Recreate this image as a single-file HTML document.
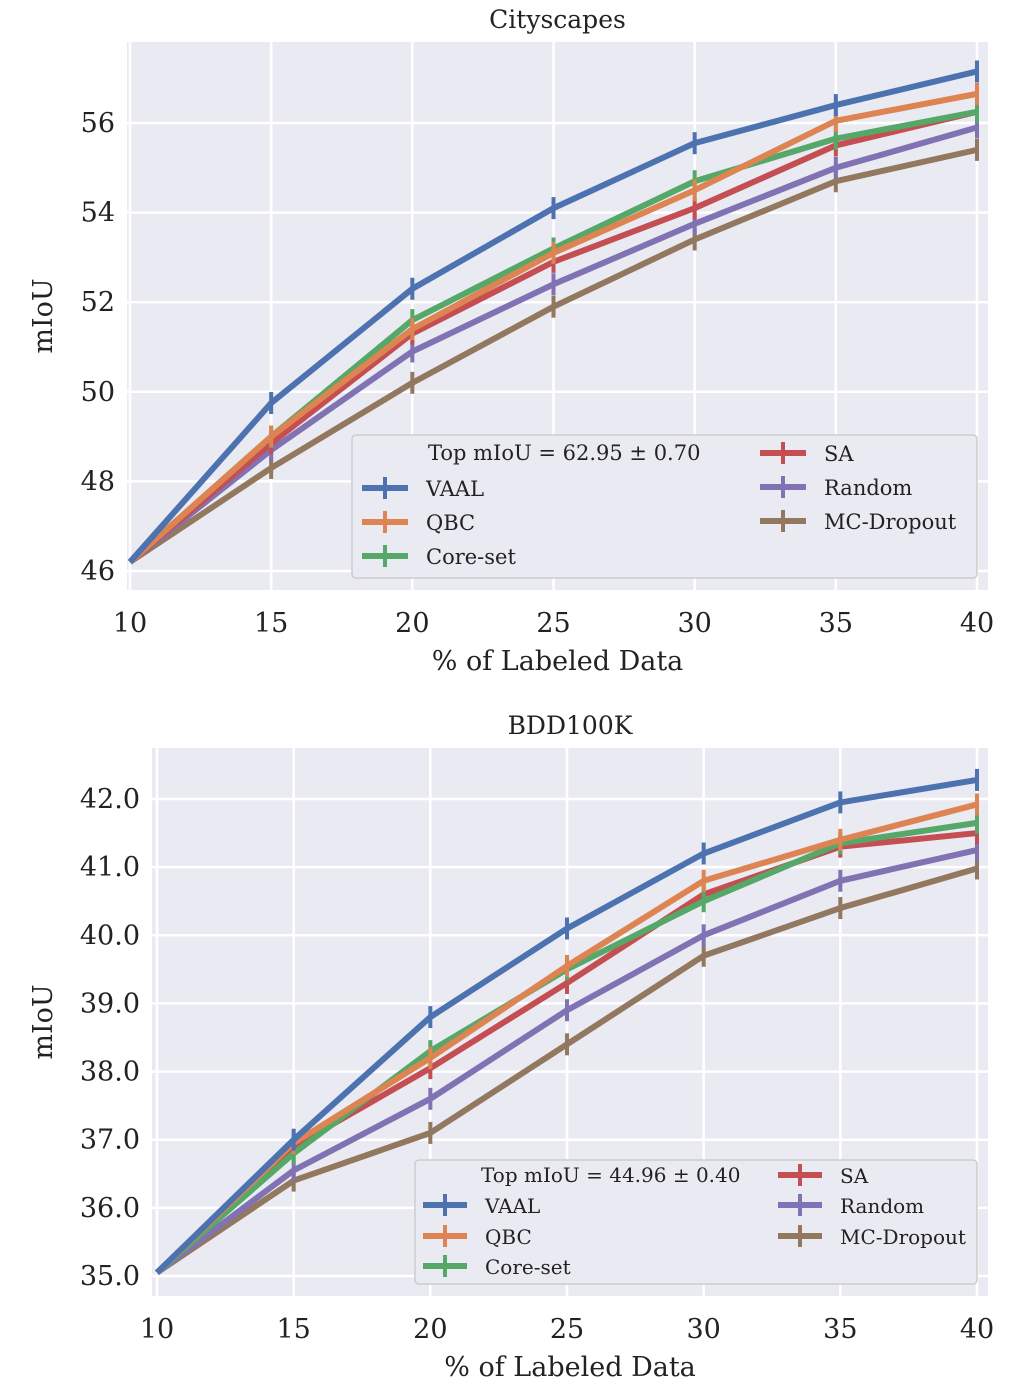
<!DOCTYPE html>
<html><head><meta charset="utf-8"><style>
body{margin:0;background:#fff}
svg{display:block;font-family:"DejaVu Serif","Liberation Serif",serif}
</style></head><body>
<svg id="svg" width="1010" height="1392"></svg>
<script>
const xCats=[10,15,20,25,30,35,40];
const seriesNames=["VAAL","QBC","Core-set","SA","Random","MC-Dropout"];
const colors=["#4C72B0","#DD8452","#55A868","#C44E52","#8172B3","#937860"];
const cityVAAL=[46.2,49.75,52.3,54.1,55.55,56.4,57.15];
const cityQBC=[46.2,49.0,51.4,53.1,54.5,56.05,56.65];
const cityCore=[46.2,49.0,51.6,53.2,54.7,55.65,56.25];
const citySA=[46.2,48.85,51.3,52.9,54.1,55.5,56.25];
const cityRandom=[46.2,48.7,50.9,52.4,53.75,55.0,55.9];
const cityMC=[46.2,48.3,50.2,51.9,53.4,54.7,55.4];
const bddVAAL=[35.05,37.0,38.8,40.1,41.2,41.95,42.28];
const bddQBC=[35.05,36.95,38.2,39.55,40.8,41.4,41.92];
const bddCore=[35.05,36.8,38.3,39.5,40.5,41.35,41.65];
const bddSA=[35.05,36.9,38.05,39.3,40.6,41.3,41.5];
const bddRandom=[35.05,36.55,37.6,38.9,40.0,40.8,41.25];
const bddMC=[35.05,36.4,37.1,38.4,39.7,40.4,40.98];
const cityYTicks=[46,48,50,52,54,56];
const bddYTicks=[35,36,37,38,39,40,41,42];
const NS="http://www.w3.org/2000/svg";
const svg=document.getElementById('svg');
function mk(t,a,p){const e=document.createElementNS(NS,t);for(const k in a)e.setAttribute(k,a[k]);(p||svg).appendChild(e);return e;}
function chart(cfg){
 const g=mk('g',{});
 
 
 const X=v=>cfg.x0+(v-10)/30*(cfg.x1-cfg.x0);
 const Y=v=>cfg.yb-(v-cfg.ymin)/(cfg.ymax-cfg.ymin)*(cfg.yb-cfg.yt);
 const bg=mk('rect',{x:cfg.L,y:cfg.T,width:cfg.R-cfg.L,height:cfg.B-cfg.T,fill:'#EAEAF2'},g);
 
 xCats.forEach(v=>{mk('line',{x1:X(v),x2:X(v),y1:cfg.T,y2:cfg.B,stroke:'#fff','stroke-width':2.5},g);
  const t=mk('text',{x:X(v),y:cfg.B+42,'text-anchor':'middle','font-size':27,fill:'#222'},g);t.textContent=v;
  });
 cfg.yt2.forEach(v=>{mk('line',{x1:cfg.L,x2:cfg.R,y1:Y(v),y2:Y(v),stroke:'#fff','stroke-width':2.5},g);
  const t=mk('text',{x:cfg.L-12,y:Y(v)+9,'text-anchor':'end','font-size':27,fill:'#222'},g);t.textContent=cfg.fmt(v);
  });
 let t=mk('text',{x:(cfg.L+cfg.R)/2,y:cfg.T-14,'text-anchor':'middle','font-size':25,fill:'#222'},g);t.textContent=cfg.title;
 
 t=mk('text',{x:(cfg.L+cfg.R)/2,y:cfg.B+80,'text-anchor':'middle','font-size':27,fill:'#222'},g);t.textContent='% of Labeled Data';
 
 const cy=(cfg.T+cfg.B)/2;
 t=mk('text',{x:cfg.ylx,y:cy,'text-anchor':'middle','font-size':27,fill:'#222',transform:`rotate(-90 ${cfg.ylx} ${cy})`},g);t.textContent='mIoU';
 
 const order=[5,4,3,2,1,0];
 order.forEach(i=>{const d=cfg.data[i];
  const p=mk('polyline',{points:d.map((v,j)=>X(xCats[j])+','+Y(v)).join(' '),fill:'none',stroke:colors[i],'stroke-width':6,'stroke-linejoin':'round'},g);
  
  d.forEach((v,j)=>{if(j==0)return;const e=mk('line',{x1:X(xCats[j]),x2:X(xCats[j]),y1:Y(v)-11,y2:Y(v)+11,stroke:colors[i],'stroke-width':4},g);
   });
 });
 const lg=cfg.lg;
 const lb=mk('rect',{x:lg.x,y:lg.y,width:lg.w,height:lg.h,fill:'#EAEAF2',stroke:'#ccc','stroke-width':1.5,rx:4},g);
 
 t=mk('text',{x:lg.tx,y:lg.ty,'font-size':lg.fs,fill:'#222'},g);t.textContent=cfg.top;
 
 lg.pos.forEach((p,i)=>{
  mk('line',{x1:p[0],x2:p[0]+lg.hw,y1:p[1],y2:p[1],stroke:colors[i],'stroke-width':6},g);
  mk('line',{x1:p[0]+lg.hw/2,x2:p[0]+lg.hw/2,y1:p[1]-11,y2:p[1]+11,stroke:colors[i],'stroke-width':4},g);
  const tt=mk('text',{x:p[0]+lg.hw+18,y:p[1]+8,'font-size':lg.fs,fill:'#222'},g);tt.textContent=seriesNames[i];
  
 });
}
chart({name:'cityscapes-chart',title:'Cityscapes',L:127,R:988,T:42,B:590,x0:130,x1:977,yb:571,yt:123,ymin:46,ymax:56,yt2:cityYTicks,fmt:v=>v,ylx:52,
 data:[cityVAAL,cityQBC,cityCore,citySA,cityRandom,cityMC],top:'Top mIoU = 62.95 ± 0.70',
 lg:{x:352,y:435,w:625,h:143,tx:428,ty:460,fs:21,hw:46,pos:[[362,488],[362,522],[362,556],[760,453],[760,487],[760,521]]}});
chart({name:'bdd100k-chart',title:'BDD100K',L:152,R:988,T:748,B:1296,x0:157,x1:977,yb:1276,yt:799,ymin:35,ymax:42,yt2:bddYTicks,fmt:v=>v.toFixed(1),ylx:52,
 data:[bddVAAL,bddQBC,bddCore,bddSA,bddRandom,bddMC],top:'Top mIoU = 44.96 ± 0.40',
 lg:{x:415,y:1160,w:562,h:124,tx:481,ty:1182,fs:20,hw:44,pos:[[423,1205],[423,1236],[423,1266],[778,1175],[778,1205],[778,1236]]}});
</script>
</body></html>
